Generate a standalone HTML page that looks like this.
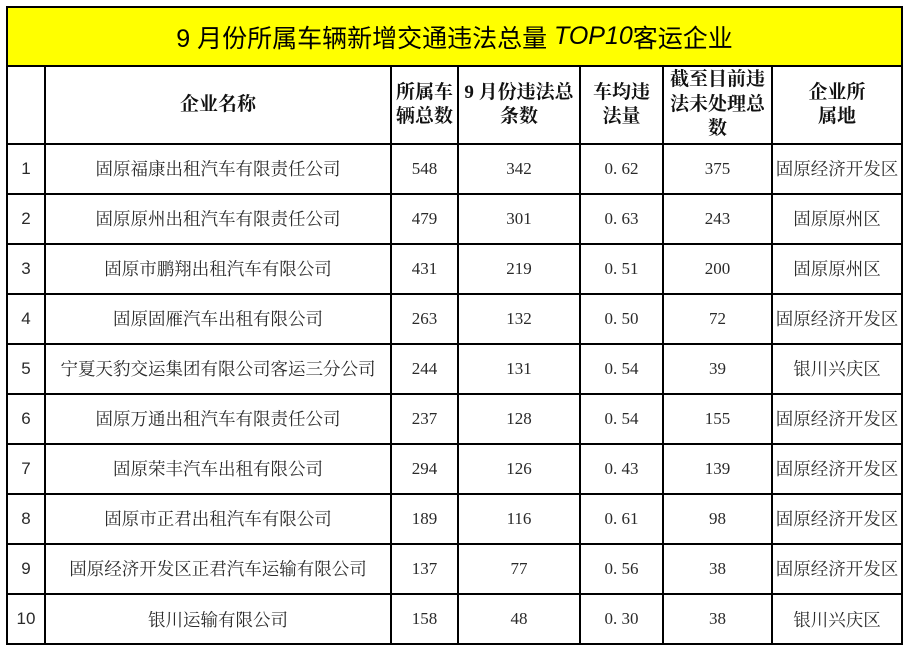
<!DOCTYPE html>
<html><head><meta charset="utf-8">
<style>
html,body{margin:0;padding:0;background:#fff;}
body{width:907px;height:651px;position:relative;overflow:hidden;}
.l{position:absolute;background:#000;}
.c{position:absolute;display:flex;align-items:center;justify-content:center;text-align:center;white-space:nowrap;}
.t{font-family:"Liberation Sans","Noto Sans CJK SC",sans-serif;font-size:25px;color:#000;}
.h{font-family:"Liberation Serif","Noto Serif CJK SC",serif;font-weight:bold;font-size:19px;line-height:24.5px;color:#111;}
.n{font-family:"Liberation Serif","Noto Serif CJK SC",serif;font-size:17.5px;color:#2a2a2a;}
.s{font-family:"Liberation Sans","Noto Sans CJK SC",sans-serif;font-size:17px;color:#2a2a2a;}
.d{font-family:"Liberation Serif",serif;font-size:17px;color:#2a2a2a;}
</style></head><body>
<div style="position:absolute;left:7px;top:7px;width:895px;height:59px;background:#ffff00;"></div>
<div class="c t" style="left:7px;top:7px;width:895px;height:59px;">9 月份所属车辆新增交通违法总量&nbsp;<i>TOP10</i>客运企业</div>

<!-- horizontal lines -->
<div class="l" style="left:6px;top:6px;width:897px;height:2px;"></div>
<div class="l" style="left:6px;top:65px;width:897px;height:2px;"></div>
<div class="l" style="left:6px;top:143px;width:897px;height:2px;"></div>
<div class="l" style="left:6px;top:192.5px;width:897px;height:2px;"></div>
<div class="l" style="left:6px;top:242.5px;width:897px;height:2px;"></div>
<div class="l" style="left:6px;top:292.5px;width:897px;height:2px;"></div>
<div class="l" style="left:6px;top:342.5px;width:897px;height:2px;"></div>
<div class="l" style="left:6px;top:392.5px;width:897px;height:2px;"></div>
<div class="l" style="left:6px;top:442.5px;width:897px;height:2px;"></div>
<div class="l" style="left:6px;top:492.5px;width:897px;height:2px;"></div>
<div class="l" style="left:6px;top:542.5px;width:897px;height:2px;"></div>
<div class="l" style="left:6px;top:592.5px;width:897px;height:2px;"></div>
<div class="l" style="left:6px;top:643px;width:897px;height:2px;"></div>
<!-- vertical lines -->
<div class="l" style="left:6px;top:6px;width:2px;height:639px;"></div>
<div class="l" style="left:901px;top:6px;width:2px;height:639px;"></div>
<div class="l" style="left:44px;top:65px;width:2px;height:580px;"></div>
<div class="l" style="left:390px;top:65px;width:2px;height:580px;"></div>
<div class="l" style="left:457px;top:65px;width:2px;height:580px;"></div>
<div class="l" style="left:579px;top:65px;width:2px;height:580px;"></div>
<div class="l" style="left:662px;top:65px;width:2px;height:580px;"></div>
<div class="l" style="left:771px;top:65px;width:2px;height:580px;"></div>

<!-- header -->
<div class="c h" style="left:45px;top:66px;width:346px;height:78px;">企业名称</div>
<div class="c h" style="left:391px;top:66px;width:67px;height:78px;">所属车<br>辆总数</div>
<div class="c h" style="left:458px;top:66px;width:122px;height:78px;">9 月份违法总<br>条数</div>
<div class="c h" style="left:580px;top:66px;width:83px;height:78px;">车均违<br>法量</div>
<div class="c h" style="left:663px;top:66px;width:109px;height:78px;">截至目前违<br>法未处理总<br>数</div>
<div class="c h" style="left:772px;top:66px;width:130px;height:78px;">企业所<br>属地</div>

<!-- rows -->
<div class="c s" style="left:7px;top:144px;width:38px;height:49px;">1</div>
<div class="c n" style="left:45px;top:144px;width:346px;height:49px;">固原福康出租汽车有限责任公司</div>
<div class="c d" style="left:391px;top:144px;width:67px;height:49px;">548</div>
<div class="c d" style="left:458px;top:144px;width:122px;height:49px;">342</div>
<div class="c d" style="left:580px;top:144px;width:83px;height:49px;">0.&nbsp;62</div>
<div class="c d" style="left:663px;top:144px;width:109px;height:49px;">375</div>
<div class="c n" style="left:772px;top:144px;width:130px;height:49px;">固原经济开发区</div>

<div class="c s" style="left:7px;top:194px;width:38px;height:49px;">2</div>
<div class="c n" style="left:45px;top:194px;width:346px;height:49px;">固原原州出租汽车有限责任公司</div>
<div class="c d" style="left:391px;top:194px;width:67px;height:49px;">479</div>
<div class="c d" style="left:458px;top:194px;width:122px;height:49px;">301</div>
<div class="c d" style="left:580px;top:194px;width:83px;height:49px;">0.&nbsp;63</div>
<div class="c d" style="left:663px;top:194px;width:109px;height:49px;">243</div>
<div class="c n" style="left:772px;top:194px;width:130px;height:49px;">固原原州区</div>

<div class="c s" style="left:7px;top:244px;width:38px;height:49px;">3</div>
<div class="c n" style="left:45px;top:244px;width:346px;height:49px;">固原市鹏翔出租汽车有限公司</div>
<div class="c d" style="left:391px;top:244px;width:67px;height:49px;">431</div>
<div class="c d" style="left:458px;top:244px;width:122px;height:49px;">219</div>
<div class="c d" style="left:580px;top:244px;width:83px;height:49px;">0.&nbsp;51</div>
<div class="c d" style="left:663px;top:244px;width:109px;height:49px;">200</div>
<div class="c n" style="left:772px;top:244px;width:130px;height:49px;">固原原州区</div>

<div class="c s" style="left:7px;top:294px;width:38px;height:49px;">4</div>
<div class="c n" style="left:45px;top:294px;width:346px;height:49px;">固原固雁汽车出租有限公司</div>
<div class="c d" style="left:391px;top:294px;width:67px;height:49px;">263</div>
<div class="c d" style="left:458px;top:294px;width:122px;height:49px;">132</div>
<div class="c d" style="left:580px;top:294px;width:83px;height:49px;">0.&nbsp;50</div>
<div class="c d" style="left:663px;top:294px;width:109px;height:49px;">72</div>
<div class="c n" style="left:772px;top:294px;width:130px;height:49px;">固原经济开发区</div>

<div class="c s" style="left:7px;top:344px;width:38px;height:49px;">5</div>
<div class="c n" style="left:45px;top:344px;width:346px;height:49px;">宁夏天豹交运集团有限公司客运三分公司</div>
<div class="c d" style="left:391px;top:344px;width:67px;height:49px;">244</div>
<div class="c d" style="left:458px;top:344px;width:122px;height:49px;">131</div>
<div class="c d" style="left:580px;top:344px;width:83px;height:49px;">0.&nbsp;54</div>
<div class="c d" style="left:663px;top:344px;width:109px;height:49px;">39</div>
<div class="c n" style="left:772px;top:344px;width:130px;height:49px;">银川兴庆区</div>

<div class="c s" style="left:7px;top:394px;width:38px;height:49px;">6</div>
<div class="c n" style="left:45px;top:394px;width:346px;height:49px;">固原万通出租汽车有限责任公司</div>
<div class="c d" style="left:391px;top:394px;width:67px;height:49px;">237</div>
<div class="c d" style="left:458px;top:394px;width:122px;height:49px;">128</div>
<div class="c d" style="left:580px;top:394px;width:83px;height:49px;">0.&nbsp;54</div>
<div class="c d" style="left:663px;top:394px;width:109px;height:49px;">155</div>
<div class="c n" style="left:772px;top:394px;width:130px;height:49px;">固原经济开发区</div>

<div class="c s" style="left:7px;top:444px;width:38px;height:49px;">7</div>
<div class="c n" style="left:45px;top:444px;width:346px;height:49px;">固原荣丰汽车出租有限公司</div>
<div class="c d" style="left:391px;top:444px;width:67px;height:49px;">294</div>
<div class="c d" style="left:458px;top:444px;width:122px;height:49px;">126</div>
<div class="c d" style="left:580px;top:444px;width:83px;height:49px;">0.&nbsp;43</div>
<div class="c d" style="left:663px;top:444px;width:109px;height:49px;">139</div>
<div class="c n" style="left:772px;top:444px;width:130px;height:49px;">固原经济开发区</div>

<div class="c s" style="left:7px;top:494px;width:38px;height:49px;">8</div>
<div class="c n" style="left:45px;top:494px;width:346px;height:49px;">固原市正君出租汽车有限公司</div>
<div class="c d" style="left:391px;top:494px;width:67px;height:49px;">189</div>
<div class="c d" style="left:458px;top:494px;width:122px;height:49px;">116</div>
<div class="c d" style="left:580px;top:494px;width:83px;height:49px;">0.&nbsp;61</div>
<div class="c d" style="left:663px;top:494px;width:109px;height:49px;">98</div>
<div class="c n" style="left:772px;top:494px;width:130px;height:49px;">固原经济开发区</div>

<div class="c s" style="left:7px;top:544px;width:38px;height:49px;">9</div>
<div class="c n" style="left:45px;top:544px;width:346px;height:49px;">固原经济开发区正君汽车运输有限公司</div>
<div class="c d" style="left:391px;top:544px;width:67px;height:49px;">137</div>
<div class="c d" style="left:458px;top:544px;width:122px;height:49px;">77</div>
<div class="c d" style="left:580px;top:544px;width:83px;height:49px;">0.&nbsp;56</div>
<div class="c d" style="left:663px;top:544px;width:109px;height:49px;">38</div>
<div class="c n" style="left:772px;top:544px;width:130px;height:49px;">固原经济开发区</div>

<div class="c s" style="left:7px;top:594px;width:38px;height:50px;">10</div>
<div class="c n" style="left:45px;top:594px;width:346px;height:50px;">银川运输有限公司</div>
<div class="c d" style="left:391px;top:594px;width:67px;height:50px;">158</div>
<div class="c d" style="left:458px;top:594px;width:122px;height:50px;">48</div>
<div class="c d" style="left:580px;top:594px;width:83px;height:50px;">0.&nbsp;30</div>
<div class="c d" style="left:663px;top:594px;width:109px;height:50px;">38</div>
<div class="c n" style="left:772px;top:594px;width:130px;height:50px;">银川兴庆区</div>
</body></html>
